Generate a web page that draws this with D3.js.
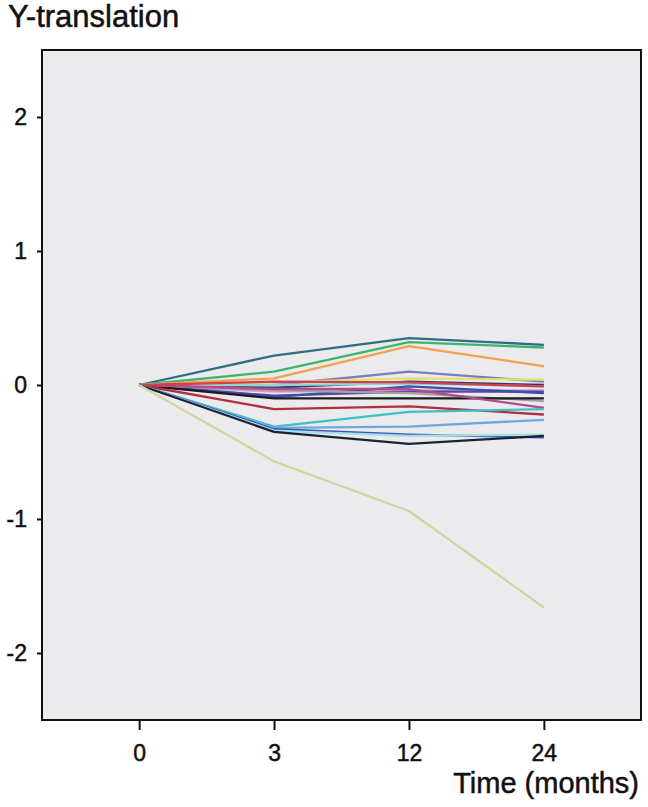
<!DOCTYPE html>
<html>
<head>
<meta charset="utf-8">
<style>
  body { margin: 0; background: #fff; }
  svg text { font-family: "Liberation Sans", Arial, sans-serif; fill: #111; stroke: #111; stroke-width: 0.5px; }
</style>
</head>
<body>
<svg id="chart"></svg>
<script src="https://cdn.jsdelivr.net/npm/d3@7"></script>
<script>
const times = ["0", "3", "12", "24"];
const yTicks = [-2, -1, 0, 1, 2];

// one row per subject: value at 0, 3, 12, 24 months
const subjects = [
  "s1", "s2", "s3", "s4", "s5", "s6", "s7", "s8", "s9", "s10",
  "s11", "s12", "s13", "s14", "s15", "s16", "s17", "s18", "s19", "s20", "s21"
];
const lineColors = [
  "#2f6d82", "#3cb46c", "#f5a04c", "#7a7ebf", "#e6df72", "#2b3d6e", "#92d6d4",
  "#e79cc8", "#6442a2", "#3450b2", "#a3a3a3", "#1b1b1b", "#b04b8c", "#b0303f",
  "#d2404e", "#40bfc6", "#70a8dc", "#3a56b6", "#a2e0e8", "#1b2232", "#d6d3a2"
];
const values = [
  [0, 0.22, 0.35, 0.30],
  [0, 0.10, 0.32, 0.28],
  [0, 0.05, 0.29, 0.14],
  [0, 0.00, 0.10, 0.025],
  [0, 0.02, 0.05, 0.04],
  [0, -0.02, 0.025, 0.00],
  [0, 0.00, 0.01, -0.01],
  [0, -0.05, -0.04, -0.04],
  [0, -0.08, -0.05, -0.05],
  [0, -0.09, -0.01, -0.06],
  [0, -0.04, -0.06, -0.12],
  [0, -0.10, -0.10, -0.10],
  [0, -0.03, -0.03, -0.17],
  [0, -0.18, -0.16, -0.22],
  [0, 0.025, 0.02, -0.01],
  [0, -0.31, -0.20, -0.18],
  [0, -0.32, -0.31, -0.26],
  [0, -0.33, -0.37, -0.39],
  [0, -0.34, -0.38, -0.37],
  [0, -0.35, -0.44, -0.38],
  [0, -0.57, -0.94, -1.66]
];

const width = 648, height = 807;
const margin = { top: 50, right: 7, bottom: 87, left: 42 };

const svg = d3.select("#chart").attr("width", width).attr("height", height);

const x = d3.scalePoint().domain(times)
  .range([margin.left, width - margin.right]).padding(0.72);
const y = d3.scaleLinear().domain([-2.5, 2.5])
  .range([height - margin.bottom, margin.top]);

svg.append("rect")
  .attr("x", margin.left).attr("y", margin.top)
  .attr("width", width - margin.left - margin.right)
  .attr("height", height - margin.top - margin.bottom)
  .attr("fill", "#ebebed")
  .attr("stroke", "#111").attr("stroke-width", 2);

const line = d3.line()
  .x((d, i) => x(times[i]))
  .y(d => y(d));

svg.append("g")
  .selectAll("path")
  .data(values)
  .join("path")
  .attr("d", line)
  .attr("fill", "none")
  .attr("stroke", (d, i) => lineColors[i])
  .attr("stroke-width", 2.3)
  .attr("stroke-linejoin", "round");

const yAxis = svg.append("g")
  .attr("transform", `translate(${margin.left},0)`)
  .call(d3.axisLeft(y).tickValues(yTicks).tickSize(5).tickPadding(10).tickFormat(d3.format("d")));
yAxis.select(".domain").remove();
yAxis.selectAll("line").attr("stroke", "#111").attr("stroke-width", 2);
yAxis.selectAll("text").attr("font-size", 23).attr("font-family", null).attr("fill", "#111")
  .text(d => d < 0 ? "-" + Math.abs(d) : d);

const xAxis = svg.append("g")
  .attr("transform", `translate(0,${height - margin.bottom})`)
  .call(d3.axisBottom(x).tickSize(10).tickPadding(15));
xAxis.select(".domain").remove();
xAxis.selectAll("line").attr("stroke", "#111").attr("stroke-width", 2);
xAxis.selectAll("text").attr("font-size", 23).attr("font-family", null).attr("fill", "#111");

svg.append("text")
  .attr("x", 8).attr("y", 27)
  .attr("font-size", 31)
  .text("Y-translation");

svg.append("text")
  .attr("x", 639).attr("y", 793)
  .attr("text-anchor", "end")
  .attr("font-size", 29)
  .text("Time (months)");
</script>
</body>
</html>
